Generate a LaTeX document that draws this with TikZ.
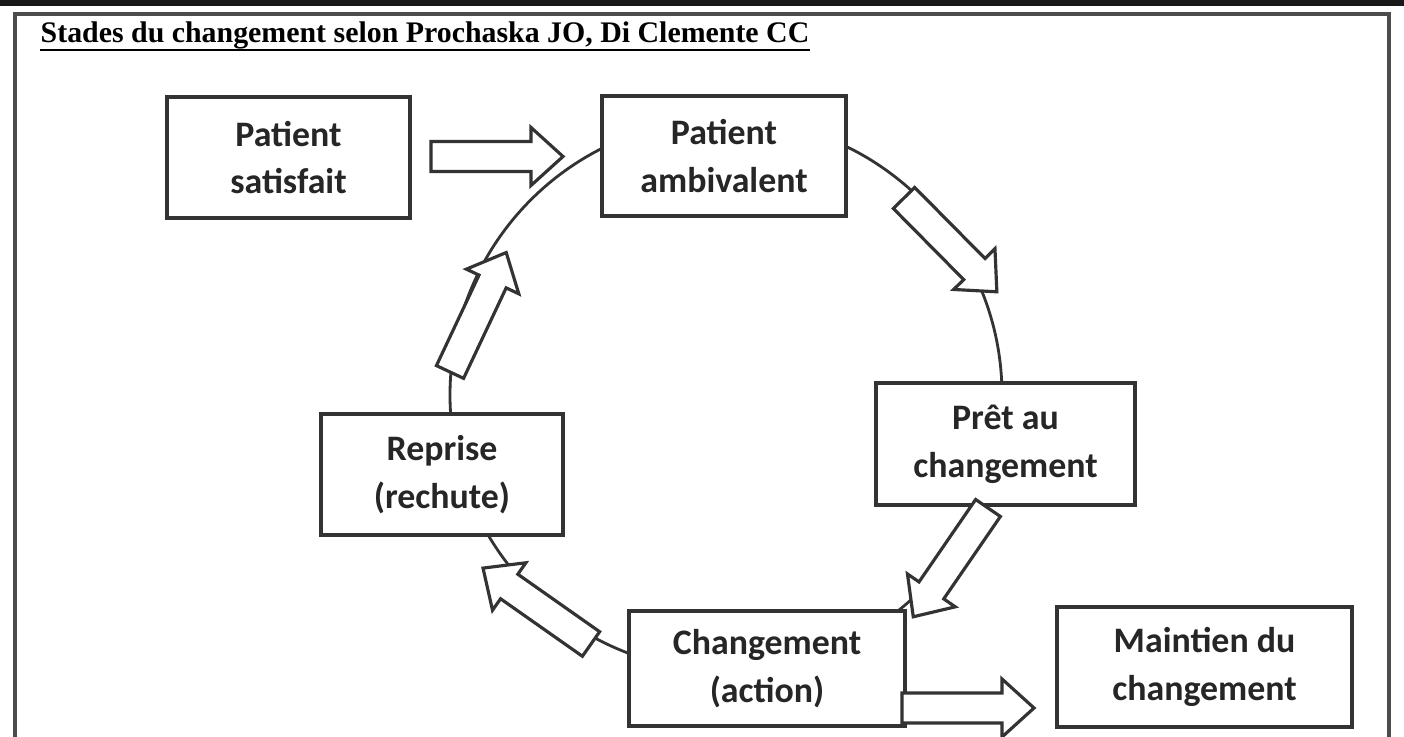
\documentclass[tikz,border=0pt]{standalone}
\usepackage{fontspec}
\setmainfont{Carlito}
\newfontfamily\titlefont{Liberation Serif}
\begin{document}
\begin{tikzpicture}[line join=miter,
	stage/.style={draw=black!80, line width=0.9pt, fill=white, align=center, inner sep=0pt,
		font=\bfseries\fontsize{10.2}{13.6}\selectfont, text=black!85},
	arrowline/.style={draw=black!80, line width=0.9pt, fill=white},
	blockarr/.pic={\draw[arrowline] (0,-0.15) -- (1.0,-0.15) -- (1.0,-0.29) -- (1.32,0) -- (1.0,0.29) -- (1.0,0.15) -- (0,0.15) -- cycle;}]
	\clip (0,0) rectangle (14.04,7.37);
	\fill[black!90] (0,7.31) rectangle (14.04,7.37);
	\draw[black!70, line width=1pt] (0.15,-0.1) -- (0.15,7.23) -- (13.89,7.23) -- (13.89,-0.1);
	\node[anchor=base west, inner sep=0pt, font=\titlefont\bfseries\fontsize{8.5}{10}\selectfont] (title) at (0.40,6.94) {Stades du changement selon Prochaska JO, Di Clemente CC};
	\draw[line width=0.7pt] ([yshift=-0.07cm]title.base west) -- ([yshift=-0.07cm]title.base east);
	\node[draw=black!80, line width=0.8pt, circle, minimum size=5.52cm] (ring) at (7.26,3.42) {};
	\node[stage, minimum width=2.43cm, minimum height=1.21cm] (satisfait) at (2.885,5.795) {Patient\\satisfait};
	\node[stage, minimum width=2.44cm, minimum height=1.20cm] (ambivalent) at (7.24,5.81) {Patient\\ambivalent};
	\node[stage, minimum width=2.59cm, minimum height=1.22cm] (pret) at (10.055,2.93) {Prêt au\\changement};
	\node[stage, minimum width=2.42cm, minimum height=1.21cm] (reprise) at (4.42,2.625) {Reprise\\(rechute)};
	\node[stage, minimum width=2.76cm, minimum height=1.15cm] (action) at (7.67,0.685) {Changement\\(action)};
	\node[stage, minimum width=2.95cm, minimum height=1.20cm] (maintien) at (12.045,0.70) {Maintien du\\changement};
	\pic at (4.31,5.805) {blockarr};
	\pic[rotate=-45.3] at (9.04,5.39) {blockarr};
	\pic[rotate=-124.5] at (9.88,2.29) {blockarr};
	\pic[rotate=144.9] at (5.91,0.93) {blockarr};
	\pic[rotate=64.8] at (4.50,3.65) {blockarr};
	\pic at (9.02,0.29) {blockarr};
\end{tikzpicture}
\end{document}
